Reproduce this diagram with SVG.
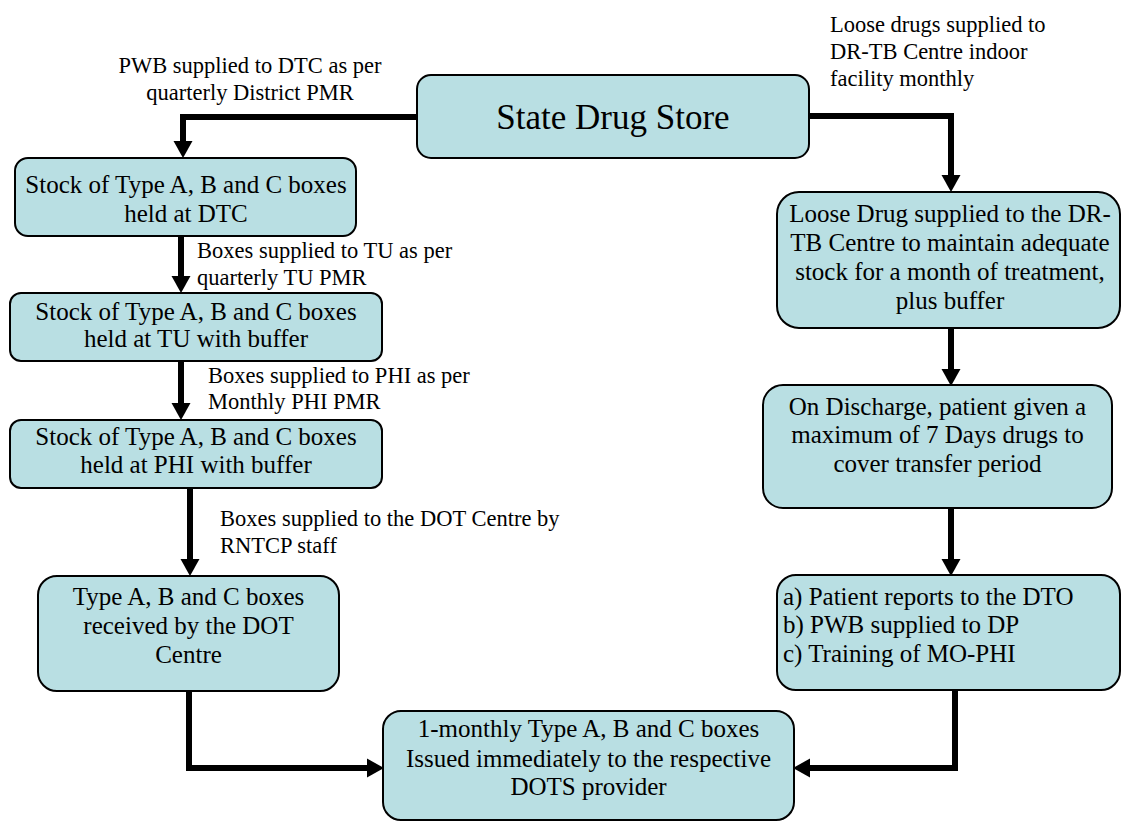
<svg xmlns="http://www.w3.org/2000/svg" width="1122" height="822" viewBox="0 0 1122 822">
<style>
text{font-family:'Liberation Serif','Times New Roman',Times,serif;fill:#000}
.box{fill:#b9dfe3;stroke:#000;stroke-width:2}
.t{font-size:25px;text-anchor:middle}
.tl{font-size:25px}
.lab{font-size:22.5px}
.title{font-size:35px;text-anchor:middle}
.c{fill:none;stroke:#000;stroke-width:6;marker-end:url(#ah)}
</style>
<defs>
<marker id="ah" markerUnits="userSpaceOnUse" markerWidth="18" markerHeight="20" refX="0" refY="9.5" orient="auto" viewBox="0 0 18 19">
<path d="M0,0 L17,9.5 L0,19 Z" fill="#000"/>
</marker>
</defs>
<rect width="1122" height="822" fill="#fff"/>
<g id="connectors">
<path class="c" d="M417,117 H183 V141"/>
<path class="c" d="M809,116 H951 V175"/>
<path class="c" d="M181,236 V276"/>
<path class="c" d="M181,361 V403"/>
<path class="c" d="M190,488 V559"/>
<path class="c" d="M951,328 V369"/>
<path class="c" d="M951,508 V559"/>
<path class="c" d="M189,691 V768 H367"/>
<path class="c" d="M955,690 V768 H810"/>
</g>
<g id="labels" font-family="Liberation Serif">
<text class="lab" text-anchor="middle" x="250" y="73">PWB supplied to DTC as per</text>
<text class="lab" text-anchor="middle" x="250" y="100">quarterly District PMR</text>
<text class="lab" x="830" y="32">Loose drugs supplied to</text>
<text class="lab" x="830" y="59">DR-TB Centre indoor</text>
<text class="lab" x="830" y="86">facility monthly</text>
<text class="lab" x="197" y="258">Boxes supplied to TU as per</text>
<text class="lab" x="197" y="285">quarterly TU PMR</text>
<text class="lab" x="208" y="383">Boxes supplied to PHI as per</text>
<text class="lab" x="208" y="409">Monthly PHI PMR</text>
<text class="lab" x="220" y="526">Boxes supplied to the DOT Centre by</text>
<text class="lab" x="220" y="553">RNTCP staff</text>
</g>
<g id="state">
<rect class="box" x="417" y="75" width="392" height="83" rx="14"/>
<text class="title" x="613" y="129">State Drug Store</text>
</g>
<g id="dtc">
<rect class="box" x="15" y="158" width="341" height="78" rx="13"/>
<text class="t" x="186" y="193">Stock of Type A, B and C boxes</text>
<text class="t" x="186" y="222">held at DTC</text>
</g>
<g id="tu">
<rect class="box" x="10" y="293" width="372" height="68" rx="11"/>
<text class="t" x="196" y="320">Stock of Type A, B and C boxes</text>
<text class="t" x="196" y="347">held at TU with buffer</text>
</g>
<g id="phi">
<rect class="box" x="10" y="420" width="372" height="68" rx="11"/>
<text class="t" x="196" y="445">Stock of Type A, B and C boxes</text>
<text class="t" x="196" y="473">held at PHI with buffer</text>
</g>
<g id="dot">
<rect class="box" x="38" y="576" width="301" height="115" rx="19"/>
<text class="t" x="188.5" y="605">Type A, B and C boxes</text>
<text class="t" x="188.5" y="634">received by the DOT</text>
<text class="t" x="188.5" y="663">Centre</text>
</g>
<g id="drtb">
<rect class="box" x="777" y="192" width="343" height="136" rx="22"/>
<text class="t" x="950" y="222">Loose Drug supplied to the DR-</text>
<text class="t" x="950" y="251">TB Centre to maintain adequate</text>
<text class="t" x="950" y="280">stock for a month of treatment,</text>
<text class="t" x="950" y="309">plus buffer</text>
</g>
<g id="discharge">
<rect class="box" x="763" y="385" width="349" height="123" rx="20"/>
<text class="t" x="937.5" y="415">On Discharge, patient given a</text>
<text class="t" x="937.5" y="443">maximum of 7 Days drugs to</text>
<text class="t" x="937.5" y="472">cover transfer period</text>
</g>
<g id="dto">
<rect class="box" x="777" y="575" width="343" height="115" rx="19"/>
<text class="tl" x="783" y="605">a) Patient reports to the DTO</text>
<text class="tl" x="783" y="633">b) PWB supplied to DP</text>
<text class="tl" x="783" y="662">c) Training of MO-PHI</text>
</g>
<g id="issued">
<rect class="box" x="383" y="711" width="411" height="109" rx="18"/>
<text class="t" x="588.5" y="737">1-monthly Type A, B and C boxes</text>
<text class="t" x="588.5" y="767">Issued immediately to the respective</text>
<text class="t" x="588.5" y="795">DOTS provider</text>
</g>
</svg>
